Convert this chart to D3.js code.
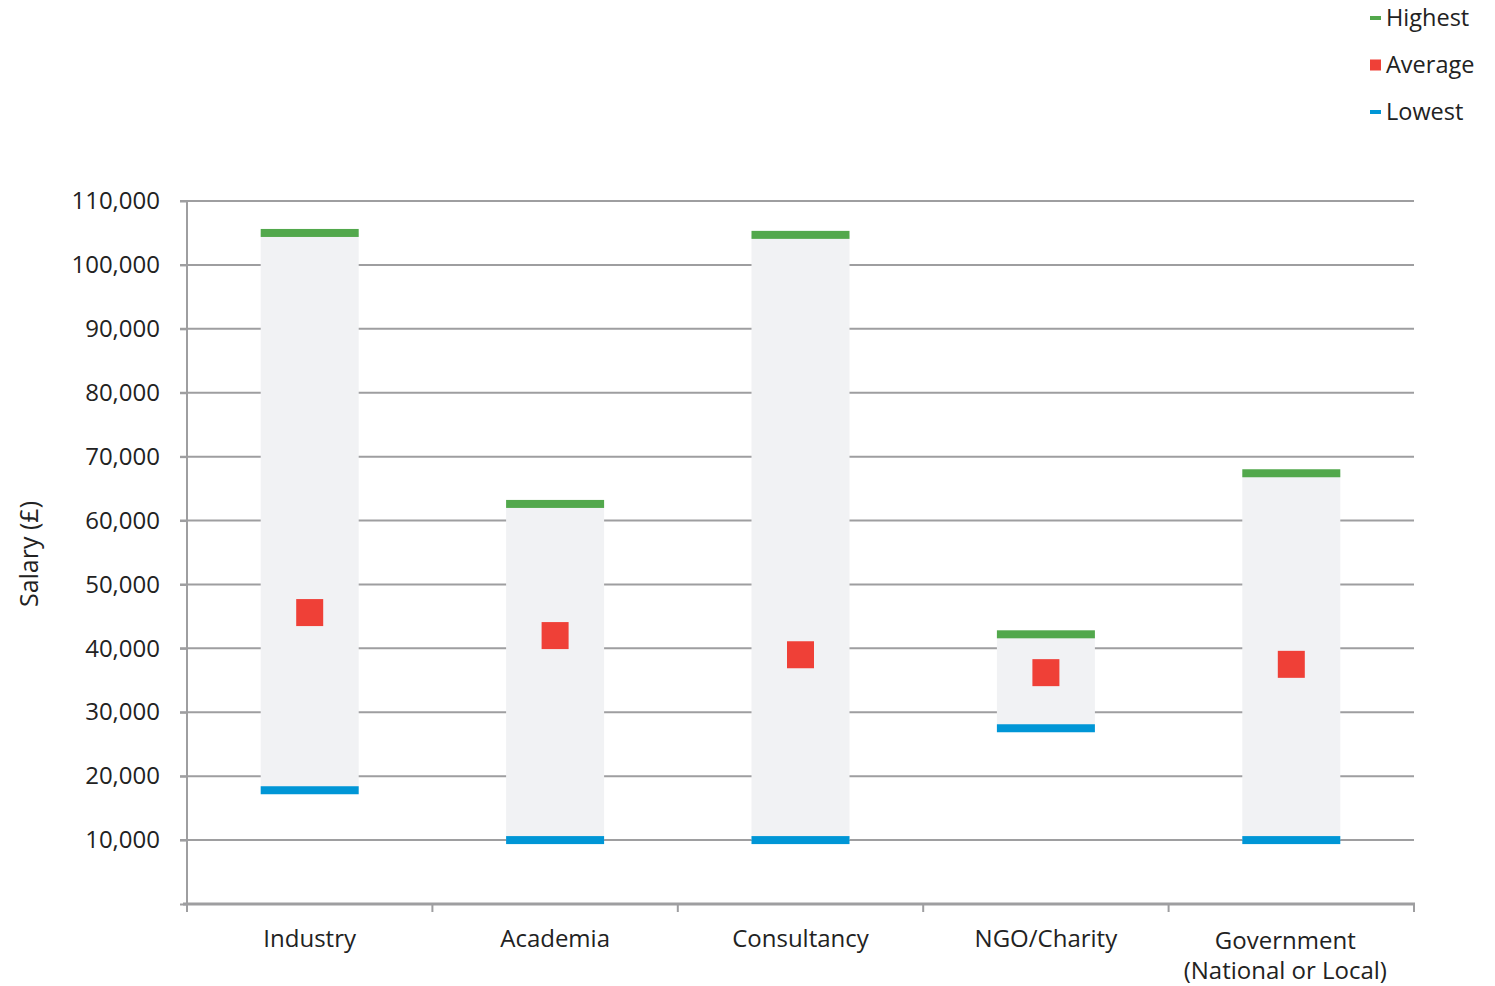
<!DOCTYPE html>
<html>
<head>
<meta charset="utf-8">
<script src="https://cdn.jsdelivr.net/npm/d3@7"></script>
<style>
  html, body { margin: 0; padding: 0; background: #fff; }
  svg text { font-family: "Open Sans", "Noto Sans", sans-serif; fill: #222; }
</style>
</head>
<body>
<svg id="chart" width="1495" height="986"></svg>
<script>
const categories = ["Industry", "Academia", "Consultancy", "NGO/Charity", "Government\n(National or Local)"];
const highest = [105000, 62600, 104700, 42200, 67400];
const average = [45600, 42000, 39000, 36200, 37500];
const lowest  = [17800, 10000, 10000, 27500, 10000];
const yTicks = [10000, 20000, 30000, 40000, 50000, 60000, 70000, 80000, 90000, 100000, 110000];
const legendItems = ["Highest", "Average", "Lowest"];

(function () {
const colors = { Highest: "#52a84c", Average: "#ef4037", Lowest: "#0096d6", range: "#f1f2f4", grid: "#9e9ea0" };

const svg = d3.select("#chart");
const pLeft = 187, pRight = 1414, pTop = 201, pBottom = 904;

const x = d3.scaleBand().domain(categories).range([pLeft, pRight]).paddingInner(0).paddingOuter(0);
const y = d3.scaleLinear().domain([0, 110000]).range([pBottom, pTop]);

// gridlines
svg.append("g").selectAll("line").data(yTicks).join("line")
  .attr("x1", pLeft - 7).attr("x2", pRight)
  .attr("y1", d => y(d)).attr("y2", d => y(d))
  .attr("stroke", colors.grid).attr("stroke-width", 2);

// y axis
const yAxis = svg.append("g").attr("transform", `translate(${pLeft},0)`)
  .call(d3.axisLeft(y).tickValues([0].concat(yTicks)).tickSize(7).tickPadding(20)
    .tickFormat(d => d === 0 ? "" : d3.format(",")(d)));
yAxis.select(".domain").attr("stroke", colors.grid).attr("stroke-width", 2)
  .attr("d", `M0,${pTop}V${pBottom + 5}`);
yAxis.selectAll(".tick line").attr("stroke", colors.grid).attr("stroke-width", 2);
yAxis.selectAll(".tick text").attr("font-size", 24).attr("fill", "#222")
  .attr("font-family", "'Open Sans', sans-serif");

// x axis
const xAxisG = svg.append("g").attr("transform", `translate(0,${pBottom})`);
xAxisG.append("line").attr("x1", pLeft - 4).attr("x2", pRight + 1).attr("y1", 0).attr("y2", 0)
  .attr("stroke", colors.grid).attr("stroke-width", 3);
const bounds = categories.map(c => x(c)).concat([pRight]);
xAxisG.selectAll("line.tk").data(bounds).join("line").attr("class", "tk")
  .attr("x1", d => d).attr("x2", d => d).attr("y1", 0).attr("y2", 8)
  .attr("stroke", colors.grid).attr("stroke-width", 2);
const lbl = xAxisG.selectAll("text.cat").data(categories).join("text").attr("class", "cat")
  .attr("text-anchor", "middle").attr("font-size", 24)
  .attr("x", d => x(d) + x.bandwidth() / 2).attr("y", 43);
lbl.each(function(d) {
  const lines = d.split("\n");
  d3.select(this).selectAll("tspan").data(lines).join("tspan")
    .attr("x", x(d) + x.bandwidth() / 2 - (lines.length > 1 ? 6 : 0))
    .attr("dy", (l, i) => i === 0 ? (lines.length > 1 ? 2 : 0) : 30)
    .text(l => l);
});

// axis title
svg.append("text").attr("transform", `translate(38,554) rotate(-90)`)
  .attr("text-anchor", "middle").attr("font-size", 25)
  .attr("font-family", "'Liberation Sans Narrow', 'Open Sans', sans-serif")
  .text("Salary (£)");

const barW = 98;
const data = categories.map((c, i) => ({ c, hi: highest[i], avg: average[i], lo: lowest[i] }));
const cx = d => x(d.c) + x.bandwidth() / 2;

// range bars
svg.append("g").selectAll("rect").data(data).join("rect")
  .attr("x", d => cx(d) - barW / 2).attr("width", barW)
  .attr("y", d => y(d.hi)).attr("height", d => y(d.lo) - y(d.hi))
  .attr("fill", colors.range);

// highest markers
svg.append("g").selectAll("rect").data(data).join("rect")
  .attr("x", d => cx(d) - barW / 2).attr("width", barW)
  .attr("y", d => y(d.hi) - 4).attr("height", 8).attr("fill", colors.Highest);
// lowest markers
svg.append("g").selectAll("rect").data(data).join("rect")
  .attr("x", d => cx(d) - barW / 2).attr("width", barW)
  .attr("y", d => y(d.lo) - 4).attr("height", 8).attr("fill", colors.Lowest);
// average markers
svg.append("g").selectAll("rect").data(data).join("rect")
  .attr("x", d => cx(d) - 13.5).attr("width", 27)
  .attr("y", d => y(d.avg) - 13.5).attr("height", 27).attr("fill", colors.Average);

// legend
const lg = svg.append("g").selectAll("g").data(legendItems).join("g")
  .attr("transform", (d, i) => `translate(1370,${[18, 65, 112][i]})`);
lg.append("rect").attr("x", 0).attr("width", 11)
  .attr("y", d => d === "Average" ? -5.5 : -2).attr("height", d => d === "Average" ? 11 : 4)
  .attr("fill", d => colors[d]);
lg.append("text").attr("x", 16).attr("y", 8).attr("font-size", 23.5).text(d => d);
})();
</script>
</body>
</html>
